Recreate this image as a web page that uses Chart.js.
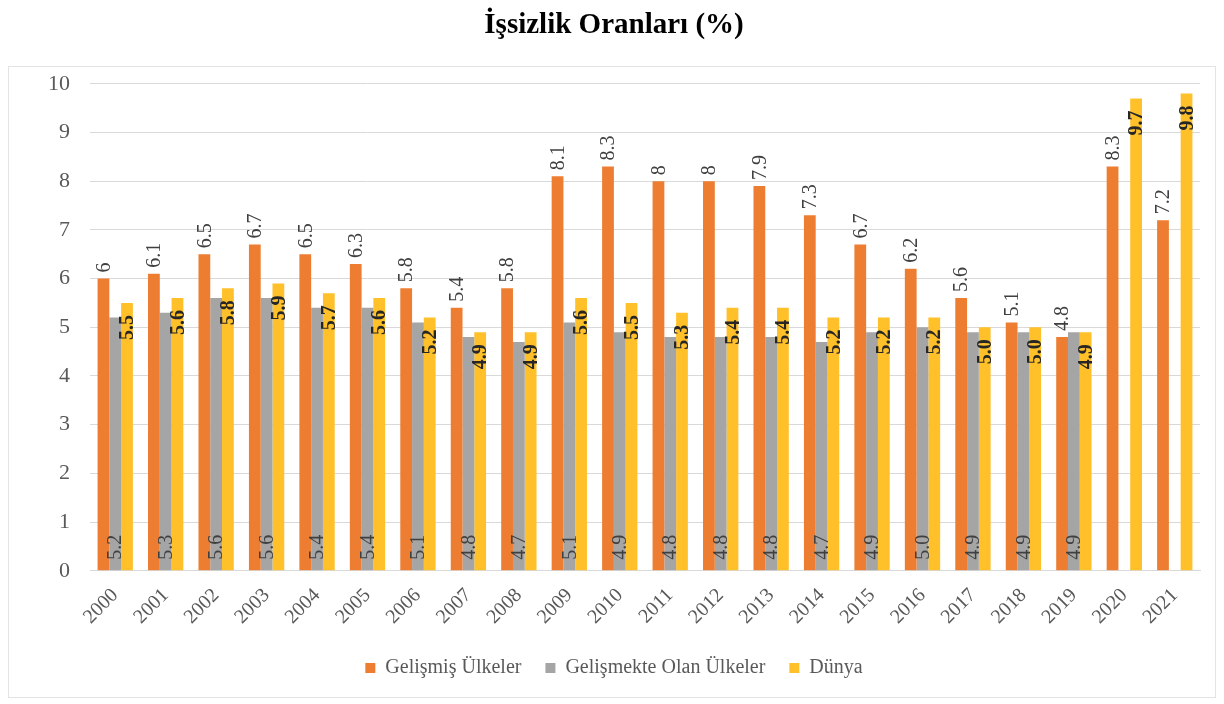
<!DOCTYPE html>
<html>
<head>
<meta charset="utf-8">
<script src="https://cdn.jsdelivr.net/npm/chart.js@4/dist/chart.umd.min.js"></script>
<style>
  html, body { margin: 0; padding: 0; background: #fff; }
  #wrap { position: relative; width: 1224px; height: 704px; }
  #frame { position: absolute; left: 8px; top: 66px; width: 1208px; height: 632px; border: 1px solid #e3e3e3; box-sizing: border-box; }
  canvas { position: absolute; left: 0; top: 0; }
</style>
</head>
<body>
<div id="wrap">
  <div id="frame"></div>
  <canvas id="myChart" width="1224" height="704"></canvas>
</div>
<script>
const years = ["2000","2001","2002","2003","2004","2005","2006","2007","2008","2009","2010",
  "2011","2012","2013","2014","2015","2016","2017","2018","2019","2020","2021"];
const gelismis = [6, 6.1, 6.5, 6.7, 6.5, 6.3, 5.8, 5.4, 5.8, 8.1, 8.3, 8, 8, 7.9, 7.3, 6.7, 6.2, 5.6, 5.1, 4.8, 8.3, 7.2];
const gelismekte = [5.2, 5.3, 5.6, 5.6, 5.4, 5.4, 5.1, 4.8, 4.7, 5.1, 4.9, 4.8, 4.8, 4.8, 4.7, 4.9, 5.0, 4.9, 4.9, 4.9, null, null];
const dunya = [5.5, 5.6, 5.8, 5.9, 5.7, 5.6, 5.2, 4.9, 4.9, 5.6, 5.5, 5.3, 5.4, 5.4, 5.2, 5.2, 5.2, 5.0, 5.0, 4.9, 9.7, 9.8];
const yTicks = [0, 1, 2, 3, 4, 5, 6, 7, 8, 9, 10];

const serif = "'Liberation Serif', 'DejaVu Serif', serif";

// value labels, drawn rotated like the Excel original
const barLabels = {
  id: "barLabels",
  afterDatasetsDraw(chart) {
    const ctx = chart.ctx;
    const yScale = chart.scales.y;
    chart.data.datasets.forEach((ds, di) => {
      const meta = chart.getDatasetMeta(di);
      meta.data.forEach((bar, i) => {
        const v = ds.data[i];
        if (v === null || v === undefined) return;
        let text, x = bar.x, y, align, font, color;
        if (di === 0) {
          text = String(v);
          y = bar.y - 6;
          align = "left";
          font = "20px " + serif;
          color = "#404040";
        } else if (di === 1) {
          text = v.toFixed(1);
          y = yScale.getPixelForValue(0) - 11;
          align = "left";
          font = "20px " + serif;
          color = "#404040";
        } else {
          text = v.toFixed(1);
          y = bar.y + 12;
          align = "right";
          font = "bold 20px " + serif;
          color = "#262626";
        }
        ctx.save();
        ctx.translate(x, y);
        ctx.rotate(-Math.PI / 2);
        ctx.font = font;
        ctx.fillStyle = color;
        ctx.textAlign = align;
        ctx.textBaseline = "middle";
        ctx.fillText(text, 0, 1);
        ctx.restore();
      });
    });
  }
};

new Chart(document.querySelector("#myChart"), {
  type: "bar",
  data: {
    labels: years,
    datasets: [
      { label: "Gelişmiş Ülkeler", data: gelismis, backgroundColor: "#ed7d31" },
      { label: "Gelişmekte Olan Ülkeler", data: gelismekte, backgroundColor: "#a5a5a5" },
      { label: "Dünya", data: dunya, backgroundColor: "#ffc02a" }
    ]
  },
  options: {
    responsive: false,
    animation: false,
    datasets: {
      bar: { categoryPercentage: 0.7, barPercentage: 1 }
    },
    layout: { padding: { left: 28, right: 24, top: 2, bottom: 16 } },
    plugins: {
      title: {
        display: true,
        text: "İşsizlik Oranları (%)",
        color: "#000",
        font: { family: serif, size: 29, weight: "bold" },
        padding: { top: 6, bottom: 41 }
      },
      legend: {
        position: "bottom",
        labels: {
          boxWidth: 10,
          boxHeight: 10,
          color: "#595959",
          padding: 24,
          font: { family: serif, size: 20 }
        }
      },
      tooltip: { enabled: false }
    },
    scales: {
      x: {
        grid: { display: false },
        border: { color: "#d9d9d9" },
        ticks: {
          color: "#595959",
          padding: 5,
          minRotation: 45,
          maxRotation: 45,
          font: { family: serif, size: 20 }
        }
      },
      y: {
        min: yTicks[0],
        max: yTicks[yTicks.length - 1],
        afterBuildTicks(axis) { axis.ticks = yTicks.map(v => ({ value: v })); },
        grid: { color: "#d9d9d9", drawTicks: false },
        border: { display: false },
        ticks: {
          color: "#595959",
          padding: 20,
          font: { family: serif, size: 22 }
        }
      }
    }
  },
  plugins: [barLabels]
});
</script>
</body>
</html>
